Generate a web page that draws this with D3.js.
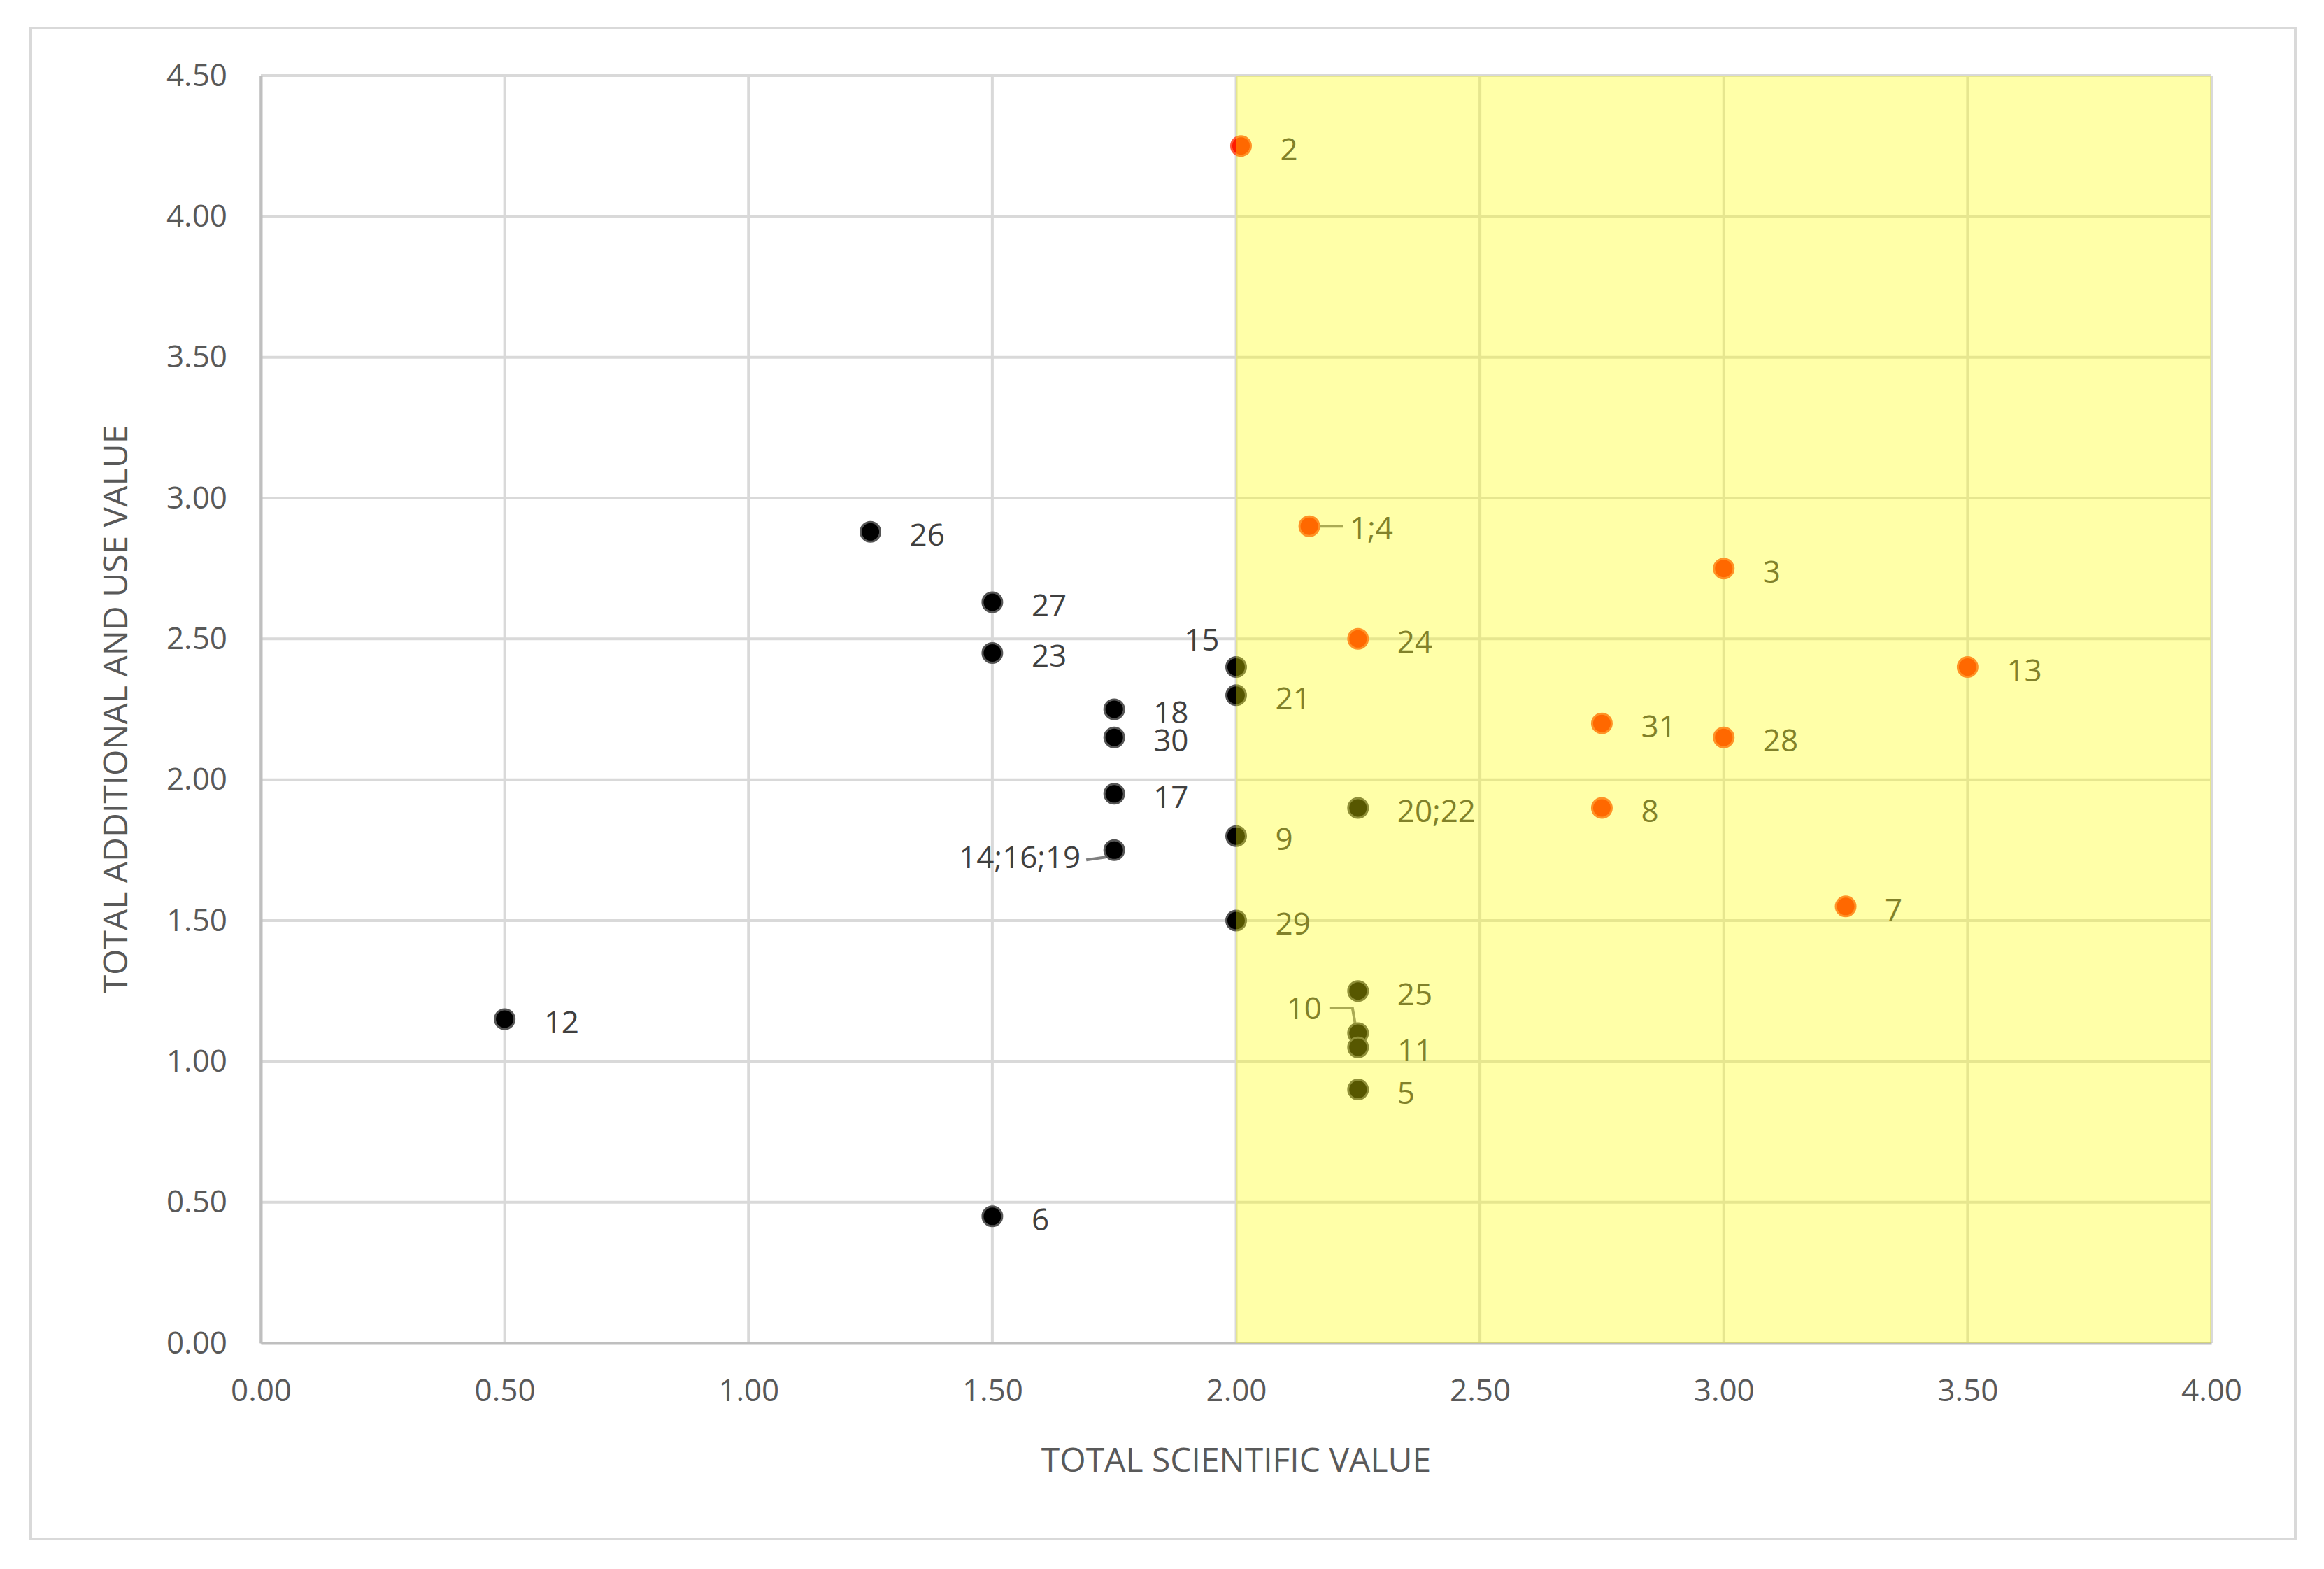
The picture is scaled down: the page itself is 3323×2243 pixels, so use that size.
<!DOCTYPE html>
<html>
<head>
<meta charset="utf-8">
<script src="https://cdn.jsdelivr.net/npm/d3@7"></script>
<style>
  body { margin: 0; background: #fff; }
  text { font-family: "Open Sans", "Liberation Sans", sans-serif; }
</style>
</head>
<body>
<div id="chart"></div>
<script>
const width = 3323;
const height = 2243;
const margin = { top: 108, right: 161, bottom: 323, left: 373 };

// data
const labels = ["2", "1;4", "3", "24", "13", "31", "28", "8", "7",
  "26", "27", "23", "15", "18", "21", "30", "17", "20;22", "9", "14;16;19",
  "29", "25", "10", "11", "5", "12", "6"];
const scientific = [2.01, 2.15, 3.0, 2.25, 3.5, 2.75, 3.0, 2.75, 3.25,
  1.25, 1.5, 1.5, 2.0, 1.75, 2.0, 1.75, 1.75, 2.25, 2.0, 1.75,
  2.0, 2.25, 2.25, 2.25, 2.25, 0.5, 1.5];
const additional = [4.25, 2.9, 2.75, 2.5, 2.4, 2.2, 2.15, 1.9, 1.55,
  2.88, 2.63, 2.45, 2.4, 2.25, 2.3, 2.15, 1.95, 1.9, 1.8, 1.75,
  1.5, 1.25, 1.1, 1.05, 0.9, 1.15, 0.45];
const groups = ["high", "high", "high", "high", "high", "high", "high", "high", "high",
  "low", "low", "low", "low", "low", "low", "low", "low", "low", "low", "low",
  "low", "low", "low", "low", "low", "low", "low"];
const xTicks = [0, 0.5, 1, 1.5, 2, 2.5, 3, 3.5, 4];
const yTicks = [0, 0.5, 1, 1.5, 2, 2.5, 3, 3.5, 4, 4.5];
const zoneStart = 2.0;

const points = labels.map((l, i) => ({ label: l, x: scientific[i], y: additional[i], g: groups[i] }));

const svg = d3.select("#chart").append("svg")
  .attr("width", width).attr("height", height);

svg.append("rect").attr("x", 44).attr("y", 40).attr("width", 3238).attr("height", 2160)
  .attr("fill", "#fff").attr("stroke", "#d9d9d9").attr("stroke-width", 4);

const x = d3.scaleLinear().domain([0, 4]).range([margin.left, width - margin.right]);
const y = d3.scaleLinear().domain([0, 4.5]).range([height - margin.bottom, margin.top]);

// grid
svg.append("g").selectAll("line").data(xTicks).join("line")
  .attr("x1", d => x(d)).attr("x2", d => x(d))
  .attr("y1", y(0)).attr("y2", y(4.5))
  .attr("stroke", "#d9d9d9").attr("stroke-width", 4);
svg.append("g").selectAll("line").data(yTicks).join("line")
  .attr("x1", x(0)).attr("x2", x(4))
  .attr("y1", d => y(d)).attr("y2", d => y(d))
  .attr("stroke", "#d9d9d9").attr("stroke-width", 4);

// axes
const xAxis = svg.append("g").attr("transform", `translate(0,${y(0)})`)
  .call(d3.axisBottom(x).tickValues(xTicks).tickFormat(d3.format(".2f")).tickSize(0).tickPadding(52));
const yAxis = svg.append("g").attr("transform", `translate(${x(0)},0)`)
  .call(d3.axisLeft(y).tickValues(yTicks).tickFormat(d3.format(".2f")).tickSize(0).tickPadding(48));
[xAxis, yAxis].forEach(a => {
  a.select(".domain").attr("stroke", "#bfbfbf").attr("stroke-width", 4);
  a.selectAll("text").attr("font-size", 44).attr("fill", "#595959");
});

svg.append("text").attr("x", (x(0) + x(4)) / 2).attr("y", 2104)
  .attr("text-anchor", "middle").attr("font-size", 48).attr("fill", "#595959")
  .text("TOTAL SCIENTIFIC VALUE");
svg.append("text").attr("transform", `translate(182,${(y(0) + y(4.5)) / 2}) rotate(-90)`)
  .attr("text-anchor", "middle").attr("font-size", 48).attr("fill", "#595959")
  .text("TOTAL ADDITIONAL AND USE VALUE");

// label placement tweaks (pixel offsets from point)
const offsets = {
  "15": { dx: -24, dy: -40, anchor: "end" },
  "14;16;19": { dx: -48, dy: 10, anchor: "end" },
  "10": { dx: -52, dy: -36, anchor: "end" },
  "1;4": { dx: 58, dy: 2, anchor: "start" }
};

// leader lines
const leaders = [
  { label: "1;4", path: (px, py) => `M${px + 14},${py}L${px + 48},${py}` },
  { label: "14;16;19", path: (px, py) => `M${px - 40},${py + 14}L${px - 12},${py + 10}` },
  { label: "10", path: (px, py) => `M${px - 40},${py - 36}L${px - 8},${py - 36}L${px},${py + 10}` }
];
leaders.forEach(l => {
  const p = points.find(d => d.label === l.label);
  svg.append("path").attr("d", l.path(x(p.x), y(p.y)))
    .attr("fill", "none").attr("stroke", "#7f7f7f").attr("stroke-width", 4);
});

// points
svg.append("g").selectAll("circle").data(points).join("circle")
  .attr("cx", d => x(d.x)).attr("cy", d => y(d.y)).attr("r", 14)
  .attr("fill", d => d.g === "high" ? "#ff1a00" : "#000")
  .attr("stroke", d => d.g === "high" ? "#ff5a3a" : "#555")
  .attr("stroke-width", 3);

// labels
svg.append("g").selectAll("text").data(points).join("text")
  .attr("x", d => x(d.x) + (offsets[d.label] ? offsets[d.label].dx : 56))
  .attr("y", d => y(d.y) + (offsets[d.label] ? offsets[d.label].dy : 4) + 16)
  .attr("text-anchor", d => offsets[d.label] ? offsets[d.label].anchor : "start")
  .attr("font-size", 44).attr("fill", "#404040")
  .text(d => d.label);

// yellow zone overlay
svg.append("rect")
  .attr("x", x(zoneStart)).attr("y", y(4.5))
  .attr("width", x(4) - x(zoneStart)).attr("height", y(0) - y(4.5))
  .attr("fill", "#ffff00").attr("fill-opacity", 0.34);
</script>
</body>
</html>
